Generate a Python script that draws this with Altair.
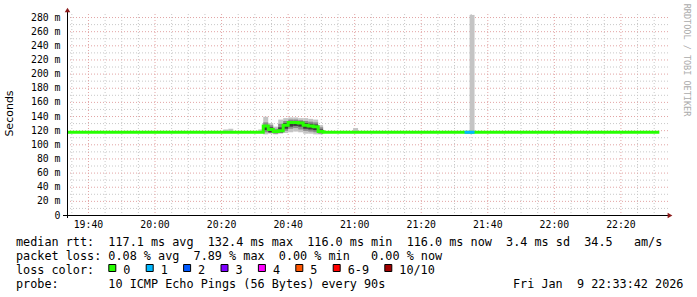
import altair as alt
import pandas as pd

DATE = "2026-01-09"
T_START, T_END = "19:33:42", "22:33:42"

# ---- median RTT (ms), step changes ----
med_time = ["19:33:42", "20:32:40", "20:34:10", "20:35:40", "20:37:10", "20:38:40", "20:40:10",
            "20:41:40", "20:43:10", "20:44:40", "20:46:10", "20:47:40", "20:49:10", "20:50:40", "22:31:42"]
med_ms = [117, 126, 121, 118, 119, 127, 131, 131, 130, 127, 126, 125, 118, 117, 117]

# ---- smoke (ping spread) per 90 s step ----
smoke_start = ["20:20:40", "20:22:10", "20:31:10", "20:32:40", "20:34:10", "20:35:40", "20:37:10", "20:38:40",
               "20:40:10", "20:41:40", "20:43:10", "20:44:40", "20:46:10", "20:47:40", "20:49:10", "20:59:40", "21:34:40"]
smoke_end = ["20:22:10", "20:23:40", "20:32:40", "20:34:10", "20:35:40", "20:37:10", "20:38:40", "20:40:10",
             "20:41:40", "20:43:10", "20:44:40", "20:46:10", "20:47:40", "20:49:10", "20:50:40", "21:01:10", "21:36:10"]
light_lo = [117, 117, 116, 114, 115, 114, 115, 116, 117, 118, 117, 115, 115, 114, 114, 117, 117]
light_hi = [121, 122, 121, 139, 130, 125, 135, 137, 138, 138, 137, 137, 136, 135, 127, 123, 283]
mid_lo = [None, None, None, 117, 116, 115, 116, 119, 122, 123, 121, 119, 118, 117, 115, None, None]
mid_hi = [None, None, None, 131, 127, 122, 129, 133, 135, 135, 134, 133, 132, 131, 124, None, None]
dark_lo = [None, None, None, 120, 117, 116, 117, 122, 125, 126, 125, 122, 121, 120, 116, None, None]
dark_hi = [None, None, None, 127, 124, 120, 124, 130, 133, 133, 132, 130, 129, 128, 121, None, None]

# ---- loss-coloured median segments ----
loss_start = ["21:33:10"]
loss_end = ["21:36:10"]
loss_ms = [117]
loss_level = ["1"]

# ---- legend ----
loss_labels = ["0", "1", "2", "3", "4", "5", "6-9", "10/10"]
loss_colors = ["#26ff00", "#00b8ff", "#0059ff", "#7e00ff", "#ff00ff", "#ff5500", "#ff0000", "#a10000"]
color_of = dict(zip(loss_labels, loss_colors))

x_labels = ["19:40", "20:00", "20:20", "20:40", "21:00", "21:20", "21:40", "22:00", "22:20"]
y_ticks = [0, 20, 40, 60, 80, 100, 120, 140, 160, 180, 200, 220, 240, 260, 280]

line1 = "median rtt:  117.1 ms avg  132.4 ms max  116.0 ms min  116.0 ms now  3.4 ms sd  34.5   am/s"
line2 = "packet loss: 0.08 % avg  7.89 % max  0.00 % min   0.00 % now"
line3 = "loss color:"
line4 = "probe:       10 ICMP Echo Pings (56 Bytes) every 90s"
stamp = "Fri Jan  9 22:33:42 2026"
y_title = "Seconds"
watermark = "RRDTOOL / TOBI OETIKER"

# ---------------- layout ----------------
PX0, PY0 = 67, 13
W, H = 599, 202
YMAX = H * 20 / 14.14
CW = 7.1
MONO = "DejaVu Sans Mono"


def iso(hms):
    return f"{DATE}T{hms}"


def dt(hms):
    p = [int(v) for v in hms.split(":")] + [0]
    return alt.DateTime(year=2026, month=1, date=9, hours=p[0], minutes=p[1], seconds=p[2])


xscale = alt.Scale(domain=[dt(T_START), dt(T_END)])
yscale = alt.Scale(domain=[0, YMAX], nice=False, zero=False)
xaxis = alt.Axis(values=[dt(t) for t in x_labels], format="%H:%M", labelFont=MONO, labelFontSize=9.8,
                 labelColor="#000000", ticks=False, domain=False, grid=False, labelPadding=4,
                 labelFlush=False, title=None)
yaxis = alt.Axis(values=y_ticks, labelExpr="datum.value == 0 ? '0' : datum.value + ' m'", labelFont=MONO,
                 labelFontSize=9.8, labelColor="#000000", ticks=False, domain=False, grid=False,
                 labelPadding=7, title=None)

# grid
vt = pd.date_range(f"{DATE} 19:35", f"{DATE} 22:30", freq="5min")
v_minor = pd.DataFrame({"t": [t.strftime("%Y-%m-%dT%H:%M:%S") for t in vt if t.minute % 20 != 0]})
v_major = pd.DataFrame({"t": [t.strftime("%Y-%m-%dT%H:%M:%S") for t in vt if t.minute % 20 == 0]})
h_minor = pd.DataFrame({"v": list(range(10, 290, 20))})
h_major = pd.DataFrame({"v": list(range(20, 290, 20))})

MINOR_C, MAJOR_C = "#c8c8c8", "#e2a4a4"
dash = [1, 2]

g_vmin = alt.Chart(v_minor).mark_rule(color=MINOR_C, strokeDash=dash, xOffset=0.5).encode(
    x=alt.X("t:T", scale=xscale, axis=xaxis), y=alt.value(1), y2=alt.value(H))
g_vmaj = alt.Chart(v_major).mark_rule(color=MAJOR_C, strokeDash=dash, xOffset=0.5).encode(
    x=alt.X("t:T", scale=xscale, axis=xaxis), y=alt.value(1), y2=alt.value(H))
g_hmin = alt.Chart(h_minor).mark_rule(color=MINOR_C, strokeDash=dash, yOffset=0.5).encode(
    y=alt.Y("v:Q", scale=yscale, axis=yaxis), x=alt.value(0), x2=alt.value(W + 2))
g_hmaj = alt.Chart(h_major).mark_rule(color=MAJOR_C, strokeDash=dash, yOffset=0.5).encode(
    y=alt.Y("v:Q", scale=yscale, axis=yaxis), x=alt.value(0), x2=alt.value(W + 2))

# smoke
smoke = pd.DataFrame({"s": [iso(t) for t in smoke_start], "e": [iso(t) for t in smoke_end],
                      "l_lo": light_lo, "l_hi": light_hi, "m_lo": mid_lo, "m_hi": mid_hi,
                      "d_lo": dark_lo, "d_hi": dark_hi})


def smoke_layer(lo, hi, color):
    df = smoke.dropna(subset=[lo, hi])[["s", "e", lo, hi]].rename(columns={lo: "lo", hi: "hi"})
    return alt.Chart(df).mark_rect(color=color).encode(
        x=alt.X("s:T", scale=xscale, axis=xaxis), x2="e:T",
        y=alt.Y("lo:Q", scale=yscale, axis=yaxis), y2="hi:Q")


s_light = smoke_layer("l_lo", "l_hi", "#c4c4c4")
s_mid = smoke_layer("m_lo", "m_hi", "#8a8a8a")
s_dark = smoke_layer("d_lo", "d_hi", "#3a3a3a")

# median line
med = pd.DataFrame({"t": [iso(t) for t in med_time], "v": med_ms})
median_line = alt.Chart(med).mark_line(interpolate="step-after", strokeWidth=3, color=color_of["0"]).encode(
    x=alt.X("t:T", scale=xscale, axis=xaxis), y=alt.Y("v:Q", scale=yscale, axis=yaxis))

loss = pd.DataFrame({"s": [iso(t) for t in loss_start], "e": [iso(t) for t in loss_end], "v": loss_ms,
                     "c": [color_of[k] for k in loss_level]})
loss_seg = alt.Chart(loss).mark_rule(strokeWidth=3).encode(
    x=alt.X("s:T", scale=xscale, axis=xaxis), x2="e:T", y=alt.Y("v:Q", scale=yscale, axis=yaxis),
    color=alt.Color("c:N", scale=None))

one = alt.Data(values=[{"k": 1}])

# axes lines and arrows
ARROW = "#8b1a1a"
y_axis_line = alt.Chart(one).mark_rule(color="#000000", strokeWidth=1).encode(
    x=alt.value(0.5), y=alt.value(-2), y2=alt.value(H + 3))
x_axis_line = alt.Chart(one).mark_rule(color="#000000", strokeWidth=1).encode(
    y=alt.value(H + 0.5), x=alt.value(-4), x2=alt.value(W + 3))
y_arrow = alt.Chart(one).mark_point(shape="triangle-up", filled=True, size=30, color=ARROW, opacity=1).encode(
    x=alt.value(0.5), y=alt.value(-3))
x_arrow = alt.Chart(one).mark_point(shape="triangle-right", filled=True, size=30, color=ARROW, opacity=1).encode(
    x=alt.value(W + 4), y=alt.value(H + 0.5))


def text_layer(txt, x, y, size=11.8, font=MONO, color="#000000", align="left", angle=0):
    return alt.Chart(alt.Data(values=[{"t": txt.replace(" ", "\u00a0")}])).mark_text(
        align=align, baseline="middle", font=font, fontSize=size, color=color, angle=angle).encode(
        x=alt.value(x - PX0), y=alt.value(y - PY0), text="t:N")


texts = [
    text_layer(line1, 16, 241.5),
    text_layer(line2, 16, 255.5),
    text_layer(line3, 16, 269.5),
    text_layer(line4, 16, 283.5),
    text_layer(stamp, 16 + 70 * CW, 283.5),
    text_layer(y_title, 10, 113.5, size=11, font="DejaVu Sans", angle=270, align="center"),
    text_layer(watermark, 687, 60, size=8.5, color="#aaaaaa", angle=90, align="center"),
]

# legend boxes
boxes = []
bx = 16 + 13 * CW
for lab, col in zip(loss_labels, loss_colors):
    boxes.append(alt.Chart(one).mark_rect(fill=col, stroke="#000000", strokeWidth=1).encode(
        x=alt.value(bx + 0.5 - PX0), x2=alt.value(bx + 7.5 - PX0),
        y=alt.value(264.5 - PY0), y2=alt.value(271.5 - PY0)))
    boxes.append(text_layer(lab, bx + 15, 269.5))
    bx = bx + 15 + len(lab) * CW + 15.3

chart = alt.layer(
    g_vmin, g_hmin, g_vmaj, g_hmaj,
    s_light, s_mid, s_dark,
    median_line, loss_seg,
    x_axis_line, y_axis_line, y_arrow, x_arrow,
    *texts, *boxes,
).properties(
    width=W, height=H,
    padding={"left": PX0, "top": PY0, "right": 697 - PX0 - W, "bottom": 297 - PY0 - H},
    autosize=alt.AutoSizeParams(type="none"),
    background="#ffffff",
).configure_view(strokeWidth=0)

chart.save("out.html", embed_options={"renderer": "svg", "actions": False})
